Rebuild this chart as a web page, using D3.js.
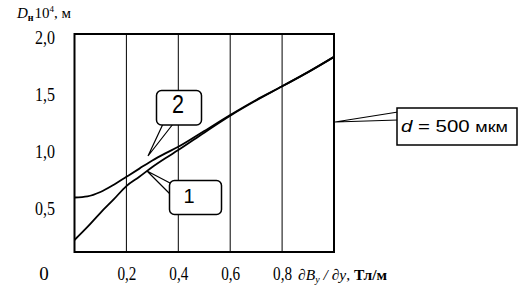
<!DOCTYPE html>
<html>
<head>
<meta charset="utf-8">
<script src="https://cdn.jsdelivr.net/npm/d3@7"></script>
<style>
  body { margin: 0; background: #fff; }
  svg { display: block; }
</style>
</head>
<body>
<svg width="526" height="301"></svg>
<script>
const width = 526, height = 301;
const svg = d3.select("svg");

// data
const xValues = [0, 0.05, 0.1, 0.15, 0.2, 0.25, 0.3, 0.35, 0.4, 0.5, 0.6, 0.7, 0.8, 0.9, 1.0];
const curve1 = [0.11, 0.23, 0.36, 0.48, 0.605, 0.69, 0.78, 0.86, 0.935, 1.095, 1.25, 1.39, 1.52, 1.65, 1.79];
const curve2 = [0.50, 0.51, 0.55, 0.615, 0.69, 0.765, 0.84, 0.905, 0.965, 1.11, 1.257, 1.395, 1.52, 1.65, 1.79];
const xTicks = [0.2, 0.4, 0.6, 0.8];
const yTicks = [0.5, 1.0, 1.5, 2.0];

const plotLeft = 74.5, plotRight = 334, plotTop = 34, plotBottom = 252;

const xScale = d3.scaleLinear().domain([0, 1]).range([plotLeft, plotRight]);
const yScale = d3.scaleLinear().domain([0, 2]).range([plotBottom, plotTop]);
// tick labels in the original sit a bit lower than the grid
const yLabel = d3.scaleLinear().domain([0, 2]).range([272, 44]);

const fmt = v => v === 0 ? "0" : d3.format(".1f")(v).replace(".", ",");
const serif = "'Liberation Serif', serif";
const sans = "'Liberation Sans', sans-serif";

// gridlines
svg.append("g")
    .selectAll("line")
    .data(xTicks)
    .enter().append("line")
    .attr("x1", d => xScale(d)).attr("x2", d => xScale(d))
    .attr("y1", plotTop).attr("y2", plotBottom)
    .attr("stroke", "#000")
    .attr("stroke-width", 1);

// frame
svg.append("rect")
    .attr("x", plotLeft).attr("y", plotTop)
    .attr("width", plotRight - plotLeft).attr("height", plotBottom - plotTop)
    .attr("fill", "none")
    .attr("stroke", "#000")
    .attr("stroke-width", 2);

// x tick labels
svg.append("g")
    .selectAll("text")
    .data(xTicks)
    .enter().append("text")
    .attr("x", d => xScale(d) + 0.5)
    .attr("y", 280)
    .attr("text-anchor", "middle")
    .attr("textLength", 19)
    .attr("lengthAdjust", "spacingAndGlyphs")
    .style("font-family", serif)
    .style("font-size", "19px")
    .text(fmt);

// y tick labels
svg.append("g")
    .selectAll("text")
    .data(yTicks)
    .enter().append("text")
    .attr("x", 45)
    .attr("y", d => yLabel(d))
    .attr("text-anchor", "middle")
    .attr("textLength", 20)
    .attr("lengthAdjust", "spacingAndGlyphs")
    .style("font-family", serif)
    .style("font-size", "19px")
    .text(fmt);

// shared origin label
svg.append("text")
    .attr("x", 44).attr("y", 280)
    .attr("text-anchor", "middle")
    .style("font-family", serif)
    .style("font-size", "19px")
    .text(fmt(0));

// curves
const line = d3.line()
    .x((d, i) => xScale(xValues[i]))
    .y(d => yScale(d))
    .curve(d3.curveMonotoneX);

[curve1, curve2].forEach(c => {
    svg.append("path")
        .datum(c)
        .attr("d", line)
        .attr("fill", "none")
        .attr("stroke", "#000")
        .attr("stroke-width", 1.8);
});

// y title
const yt = svg.append("text")
    .attr("x", 17).attr("y", 18)
    .style("font-family", serif)
    .style("font-size", "15px");
yt.append("tspan").style("font-style", "italic").text("D");
yt.append("tspan").attr("dy", 3).style("font-size", "10px").style("font-weight", "bold").text("н");
yt.append("tspan").attr("dy", -3).attr("dx", 1).text("10");
yt.append("tspan").attr("dy", -6).style("font-size", "9px").text("4");
yt.append("tspan").attr("dy", 6).text(", м");

// x title
const xt = svg.append("text")
    .attr("x", 298).attr("y", 280)
    .style("font-family", serif)
    .style("font-size", "15.5px");
xt.append("tspan").style("font-style", "italic").text("∂B");
xt.append("tspan").attr("dy", 3).style("font-size", "10px").style("font-style", "italic").text("y");
xt.append("tspan").attr("dy", -3).style("font-style", "italic").text(" / ∂y");
xt.append("tspan").text(", ");
xt.append("tspan").style("font-weight", "bold").text("Тл/м");

// callouts
function callout(bx, by, bw, bh, pts) {
    const g = svg.append("g");
    g.append("path")
        .attr("d", d3.line()(pts))
        .attr("fill", "#fff")
        .attr("stroke", "#000")
        .attr("stroke-width", 1.2);
    g.append("rect")
        .attr("x", bx).attr("y", by)
        .attr("width", bw).attr("height", bh)
        .attr("rx", 5)
        .attr("fill", "#fff")
        .attr("stroke", "#000")
        .attr("stroke-width", 1.5);
    return g;
}

const c2 = callout(156.5, 90.5, 45, 34.5,
    [[163, 124], [148, 156], [173, 124]]);
c2.append("text")
    .attr("x", 178).attr("y", 113)
    .attr("text-anchor", "middle")
    .attr("textLength", 12)
    .attr("lengthAdjust", "spacingAndGlyphs")
    .style("font-family", sans)
    .style("font-size", "25px")
    .text("2");

const c1 = callout(169.5, 180.5, 52, 34,
    [[170, 183], [147, 171], [170, 194]]);
c1.append("text")
    .attr("x", 189).attr("y", 203)
    .attr("text-anchor", "middle")
    .style("font-family", sans)
    .style("font-size", "20px")
    .text("1");

const c3 = callout(397, 108, 120, 37,
    [[398, 112], [335, 122], [398, 120]]);
c3.select("rect").attr("rx", 0);
const dt = c3.append("text")
    .attr("x", 401).attr("y", 132)
    .attr("textLength", 107)
    .attr("lengthAdjust", "spacingAndGlyphs")
    .style("font-family", sans)
    .style("font-size", "17px");
dt.append("tspan").style("font-style", "italic").text("d");
dt.append("tspan").text(" = 500 ");
dt.append("tspan").style("font-size", "15px").text("мкм");
</script>
</body>
</html>
